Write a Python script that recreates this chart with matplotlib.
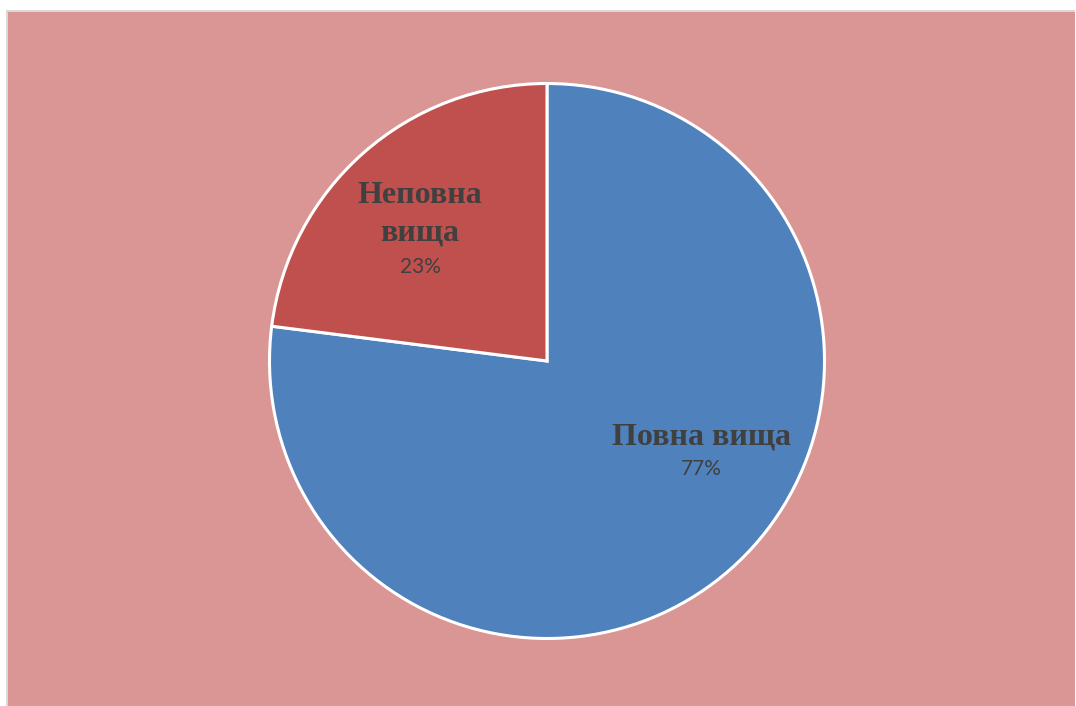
import matplotlib
matplotlib.use("Agg")
import matplotlib.pyplot as plt
from matplotlib.patches import Rectangle

categories = ["Повна вища", "Неповна вища"]
values = [77, 23]
colors = ["#4F81BD", "#C0504D"]
label_lines = ["Повна вища", "Неповна\nвища"]

W, H = 1076, 706
fig = plt.figure(figsize=(W / 100, H / 100), dpi=100)
fig.patch.set_facecolor("white")

# chart area background with thin grey border
fig.add_artist(Rectangle((6 / W, 0), (W - 7) / W, (H - 10) / H,
                         transform=fig.transFigure, facecolor="#D9D9D9",
                         edgecolor="none", zorder=-20))
fig.add_artist(Rectangle((8 / W, 0), (W - 9) / W, (H - 12) / H,
                         transform=fig.transFigure, facecolor="#D99694",
                         edgecolor="none", zorder=-10))

cx, cy, r = 547, 361, 277.5
ax = fig.add_axes([(cx - r) / W, (H - cy - r) / H, 2 * r / W, 2 * r / H])
ax.set_zorder(5)
ax.set_facecolor("none")
wedges, _ = ax.pie(values, colors=colors, startangle=90, counterclock=False,
                   radius=1.0, wedgeprops=dict(edgecolor="white", linewidth=2.2))
ax.set_xlim(-1, 1)
ax.set_ylim(-1, 1)
ax.axis("off")

def px(x, y):
    return ((x - cx) / r, (cy - y) / r)

name_font = dict(family="Liberation Serif", fontweight="bold", fontsize=23, color="#404040")
pct_font = dict(family="Lato", fontsize=15, color="#404040")

pos = [((701, 437), (701, 469)), ((420, 214), (420, 267))]
for i in range(len(categories)):
    (nx, ny), (qx, qy) = pos[i]
    ax.text(*px(nx, ny), label_lines[i], ha="center", va="center",
            linespacing=1.4, **name_font)
    ax.text(*px(qx, qy), f"{values[i]}%", ha="center", va="center", **pct_font)

fig.savefig("out.png", dpi=100, facecolor="white")
